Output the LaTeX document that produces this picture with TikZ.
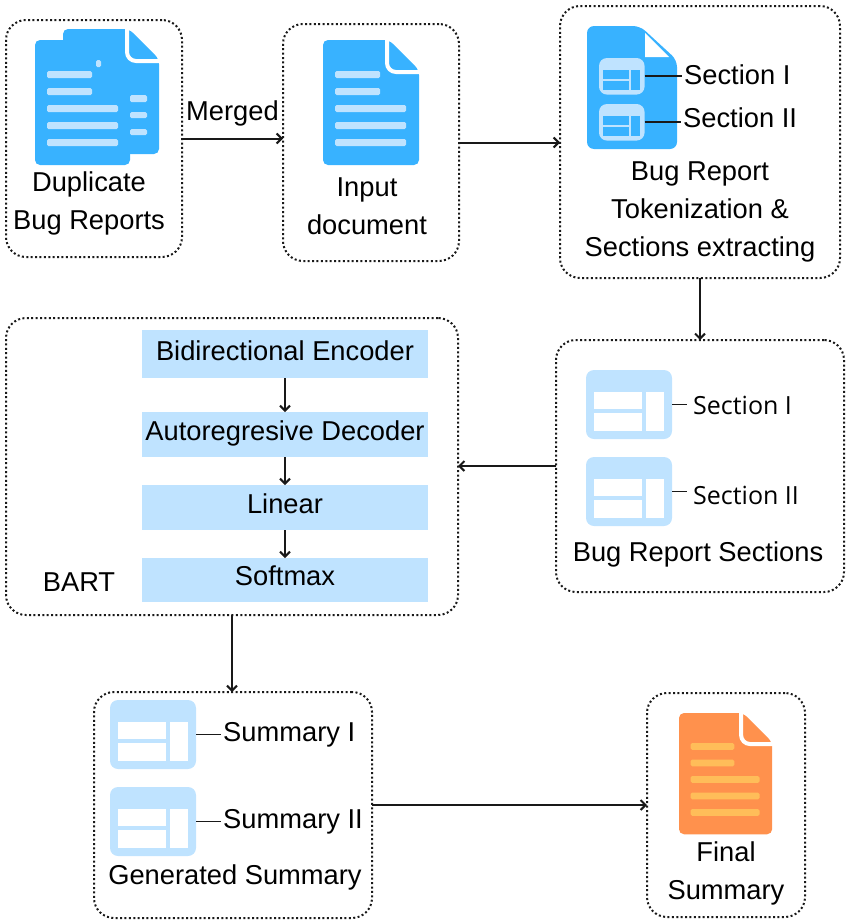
\documentclass[tikz,border=0pt]{standalone}
\usepackage{fontspec}
\setmainfont{Liberation Sans}
\newfontfamily\cardfont{Open Sans}
\usetikzlibrary{arrows.meta}
\definecolor{docblue}{HTML}{38B2FF}
\definecolor{paleblue}{HTML}{BFE3FF}
\definecolor{docorange}{HTML}{FF914D}
\definecolor{barorange}{HTML}{FFBD59}
\tikzset{
  stage/.style={draw=black!90, line width=2pt, dash pattern=on 2pt off 2.4pt, rounded corners=20pt, inner sep=0pt, outer sep=0pt},
  caption/.style={align=center, font=\fontsize{27.3}{38}\selectfont, inner sep=0pt},
  tag/.style={anchor=west, font=\fontsize{27.3}{30}\selectfont, inner ysep=0pt, inner xsep=2pt},
  cardtag/.style={anchor=west, font=\cardfont\fontsize{25}{28}\selectfont, inner ysep=0pt, inner xsep=6pt},
  layer/.style={fill=paleblue, minimum width=286pt, inner sep=0pt, outer sep=0pt},
  flow/.style={draw=black!90, line width=2pt, -{Straight Barb[length=5pt,width=10pt,line width=2pt]}},
  stub/.style={draw=black!90, line width=1.9pt},
  card/.style={fill=paleblue, rounded corners=8pt, minimum width=86pt, minimum height=69pt, inner sep=0pt, outer sep=0pt, anchor=north west, transform shape},
  bar/.style={rounded corners=1.5pt}
}
% page with folded corner, top left at #1,#2
\newcommand{\pagesheet}[4]{
  \begin{scope}[shift={(#1,#2)}, scale=#3]
    \fill[#4, rounded corners=5pt] (0,0) -- (66,0) -- (96,30) -- (96,125) -- (0,125) -- cycle;
    \draw[white, line width=4pt, rounded corners=9pt] (64,-2) -- (64,32) -- (98,32);
  \end{scope}
}
% the five text bars of a page
\newcommand{\pagebars}[4]{
  \begin{scope}[shift={(#1,#2)}, scale=#3]
    \fill[#4, bar] (12,31) rectangle (57,38);
    \fill[#4, bar] (12,48) rectangle (57,55);
    \fill[#4, bar] (12,65) rectangle (83,72);
    \fill[#4, bar] (12,82) rectangle (83,89);
    \fill[#4, bar] (12,99) rectangle (83,106);
  \end{scope}
}
% table card, named #1
\newcommand{\tablecard}[5]{
  \begin{scope}[shift={(#2,#3)}, scale=#4]
    \node[card] (#1) at (0,0) {};
    \fill[#5] (8,22) rectangle (56,39);
    \fill[#5] (8,43) rectangle (56,61);
    \fill[#5] (60,22) rectangle (78,61);
  \end{scope}
}
\begin{document}
\begin{tikzpicture}[x=1pt, y=-1pt]
  \useasboundingbox (0,0) rectangle (850,921);

  % Stage boxes
  \node[stage, minimum width=176pt, minimum height=237pt] (dup) at (94,138.5) {};
  \node[stage, minimum width=176pt, minimum height=237pt] (input) at (371,142.5) {};
  \node[stage, minimum width=280pt, minimum height=272pt] (token) at (700,142) {};
  \node[stage, minimum width=288pt, minimum height=252pt] (parts) at (700,466) {};
  \node[stage, minimum width=452pt, minimum height=297pt] (bart) at (232,466.5) {};
  \node[stage, minimum width=278pt, minimum height=226pt] (gen) at (233,805) {};
  \node[stage, minimum width=158pt, minimum height=224pt] (final) at (726,805) {};

  % Duplicate reports
  \fill[docblue, rounded corners=5pt] (35,40) rectangle (130,165);
  \pagesheet{63}{29}{1}{docblue}
  \pagebars{35}{40}{1}{paleblue}
  \fill[paleblue, bar] (96,60) rectangle (101,67);
  \fill[paleblue, bar] (130,95) rectangle (147,102);
  \fill[paleblue, bar] (130,112) rectangle (147,118);
  \fill[paleblue, bar] (130,129) rectangle (147,135);
  \node[caption] (dupname) at (89,203) {Duplicate\\Bug Reports};

  % Input document
  \pagesheet{323}{40}{1}{docblue}
  \pagebars{323}{40}{1}{paleblue}
  \node[caption] (inputname) at (367,206) {Input\\document};

  % Tokenization
  \fill[docblue, rounded corners=7pt] (587,26) -- (640,26) -- (677,60) -- (677,149) -- (587,149) -- cycle;
  \fill[white] (645,33) -- (669,57) -- (645,57) -- cycle;
  \tablecard{tokA}{599}{58}{0.53}{docblue}
  \tablecard{tokB}{599}{104}{0.53}{docblue}
  \node[tag] (tokAname) at (682,75) {Section I};
  \node[tag] (tokBname) at (681,118) {Section II};
  \draw[stub] (tokA.east) -- (tokA.east -| tokAname.west);
  \draw[stub] (tokB.east) -- (tokB.east -| tokBname.west);
  \node[caption] (tokenname) at (700,212) {Bug Report\\Tokenization \&\\Sections extracting};

  % Report sections
  \tablecard{partA}{586}{370}{1}{white}
  \tablecard{partB}{586}{457}{1}{white}
  \node[cardtag] (partAname) at (687,405) {Section I};
  \node[cardtag] (partBname) at (687,495) {Section II};
  \draw[stub] (partA.east) -- (partA.east -| partAname.west);
  \draw[stub] (partB.east) -- (partB.east -| partBname.west);
  \node[caption] (partsname) at (698,554) {Bug Report Sections};

  % BART layers
  \node[layer, minimum height=48pt] (encoder) at (285,354) {};
  \node[layer, minimum height=45pt] (decoder) at (285,434.5) {};
  \node[layer, minimum height=45pt] (linear) at (285,507.5) {};
  \node[layer, minimum height=44pt] (softmax) at (285,580) {};
  \node[caption] (encodername) at (285,351) {Bidirectional Encoder};
  \node[caption] (decodername) at (285,433) {Autoregresive Decoder};
  \node[caption] (linearname) at (285,504) {Linear};
  \node[caption] (softmaxname) at (285,576) {Softmax};
  \draw[flow] (encoder) -- (decoder);
  \draw[flow] (decoder) -- (linear);
  \draw[flow] (linear) -- (softmax);
  \node[caption] (bartname) at (79,582) {BART};

  % Generated summary
  \tablecard{sumA}{110}{700}{1}{white}
  \tablecard{sumB}{110}{787}{1}{white}
  \node[tag] (sumAname) at (221,735) {Summary I};
  \node[tag] (sumBname) at (221,822) {Summary II};
  \draw[stub] (sumA.east) -- (sumA.east -| sumAname.west);
  \draw[stub] (sumB.east) -- (sumB.east -| sumBname.west);
  \node[caption] (genname) at (235,877) {Generated Summary};

  % Final summary
  \pagesheet{679}{713}{0.97}{docorange}
  \pagebars{679}{713}{0.97}{barorange}
  \node[caption] (finalname) at (726,873) {Final\\Summary};

  % Flow between the stages
  \draw[flow] (dup.east) -- node[above=11pt, caption] (mergedname) {Merged} (dup.east -| input.west);
  \draw[flow] (input.east) -- (input.east -| token.west);
  \draw[flow] (token.south) -- (parts.north);
  \draw[flow] (parts.west) -- (parts.west -| bart.east);
  \draw[flow] (bart.south) -- (bart.south |- gen.north);
  \draw[flow] (gen.east) -- (final.west);
\end{tikzpicture}
\end{document}
